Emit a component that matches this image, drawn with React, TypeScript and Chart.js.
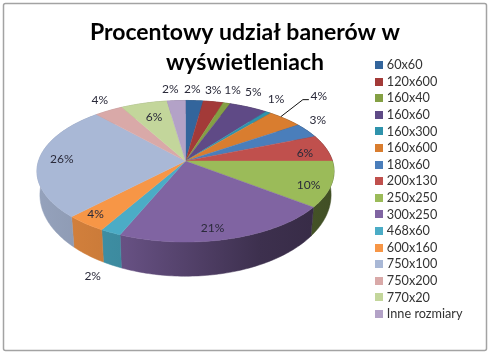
import React, { useEffect, useRef } from "react";
import { Chart, registerables } from "chart.js";

Chart.register(...registerables);

const categories = ["60x60","120x600","160x40","160x60","160x300","160x600","180x60","200x130","250x250","300x250","468x60","600x160","750x100","750x200","770x20","Inne rozmiary"];
const shares = [2.2,2.5,0.9,4.8,0.7,4.4,3.4,6.1,10.4,20.9,2.0,3.9,26.1,3.6,5.8,2.3];
const shareLabels = ["2%","3%","1%","5%","1%","4%","3%","6%","10%","21%","2%","4%","26%","4%","6%","2%"];
const colors = ["#33659c","#a33a38","#84a044","#5f4a86","#2f93ac","#d97d2f","#4a7ebb","#c0504d","#9bbb59","#8064a2","#4bacc6","#f79646","#a9b8d6","#d9a9a8","#c3d69b","#b3a2c7"];
const titleLines = ["Procentowy udział banerów w", "wyświetleniach"];
// label placement relative to the rim point at each slice's mid-angle
const labelNudge: [number, number][] = [[-2,-11],[0,-12],[6,-13],[5,-15],[8,-13],[34,-23],[11,-10],[-21,5],[-23,1],[-17,-11],[-18,44],[10,-10],[23,-1],[-9,-10],[10,14],[-6,-11]];

const FONT = "Lato, Carlito, 'Open Sans', sans-serif";
const APEX = { x: 185.5, y: 161 };
const W = 147, H = 69.3, K = 0.145, BASE_X = 0.98, BASE_Y = 1.15, BASE_DROP = 22;

function rim(phi: number, base: boolean) {
  const X = Math.sin(phi), Y = -Math.cos(phi);
  const s = 1 / (1 - K * Y);
  return {
    x: APEX.x + W * X * s * (base ? BASE_X : 1),
    y: APEX.y + H * Y * s * (base ? BASE_Y : 1) + (base ? BASE_DROP : 0),
  };
}

function shade(hex: string, f: number) {
  const n = parseInt(hex.slice(1), 16);
  const c = [(n >> 16) & 255, (n >> 8) & 255, n & 255].map((v) => Math.round(v * f));
  return `rgb(${c[0]},${c[1]},${c[2]})`;
}

function swatch(color: string) {
  const c = document.createElement("canvas");
  c.width = 8;
  c.height = 8;
  const x = c.getContext("2d")!;
  x.fillStyle = color;
  x.fillRect(0, 0, 8, 8);
  return c;
}

const pie3d = {
  id: "pie3d",
  beforeDraw(chart: any) {
    const ctx = chart.ctx;
    ctx.save();
    ctx.fillStyle = "#ffffff";
    ctx.fillRect(0, 0, chart.width, chart.height);
    ctx.strokeStyle = "#a3a3a3";
    ctx.lineWidth = 1.5;
    ctx.beginPath();
    ctx.roundRect(3.5, 3.5, 483, 347, 2);
    ctx.stroke();
    ctx.restore();
  },
  beforeDatasetDraw(chart: any) {
    const ctx = chart.ctx;
    const arcs = chart.getDatasetMeta(0).data;
    const step = Math.PI / 180;
    ctx.save();
    arcs.forEach((arc: any, i: number) => {
      const a = arc.startAngle + Math.PI / 2, b = arc.endAngle + Math.PI / 2;
      const g = ctx.createLinearGradient(37, 0, 334, 0);
      g.addColorStop(0, shade(colors[i], 0.88));
      g.addColorStop(0.3, shade(colors[i], 0.8));
      g.addColorStop(0.75, shade(colors[i], 0.48));
      g.addColorStop(1, shade(colors[i], 0.42));
      ctx.fillStyle = g;
      ctx.strokeStyle = g;
      ctx.lineWidth = 0.5;
      ctx.beginPath();
      let p = rim(a, false);
      ctx.moveTo(p.x, p.y);
      for (let t = a; t < b; t += step) { p = rim(t, false); ctx.lineTo(p.x, p.y); }
      p = rim(b, false); ctx.lineTo(p.x, p.y);
      for (let t = b; t > a; t -= step) { p = rim(t, true); ctx.lineTo(p.x, p.y); }
      p = rim(a, true); ctx.lineTo(p.x, p.y);
      ctx.closePath();
      ctx.fill();
      ctx.stroke();
    });
    arcs.forEach((arc: any, i: number) => {
      const a = arc.startAngle + Math.PI / 2, b = arc.endAngle + Math.PI / 2;
      ctx.fillStyle = colors[i];
      ctx.strokeStyle = colors[i];
      ctx.lineWidth = 0.4;
      ctx.beginPath();
      ctx.moveTo(APEX.x, APEX.y);
      for (let t = a; t < b; t += step) { const p = rim(t, false); ctx.lineTo(p.x, p.y); }
      const e = rim(b, false); ctx.lineTo(e.x, e.y);
      ctx.closePath();
      ctx.fill();
      ctx.stroke();
    });
    ctx.font = `12px ${FONT}`;
    ctx.fillStyle = "#2a2a3a";
    ctx.textAlign = "center";
    ctx.textBaseline = "middle";
    let leader: any = null;
    arcs.forEach((arc: any, i: number) => {
      const mid = (arc.startAngle + arc.endAngle) / 2 + Math.PI / 2;
      const p = rim(mid, false);
      const tx = p.x + labelNudge[i][0], ty = p.y + labelNudge[i][1];
      ctx.fillText(shareLabels[i], tx, ty);
      if (labelNudge[i][0] > 30) leader = { p, tx, ty };
    });
    if (leader) {
      ctx.strokeStyle = "#111";
      ctx.lineWidth = 1;
      ctx.beginPath();
      ctx.moveTo(leader.p.x - 4, leader.p.y - 2);
      ctx.lineTo(leader.tx - 16, leader.ty + 4);
      ctx.lineTo(leader.tx - 10, leader.ty + 4);
      ctx.stroke();
    }
    ctx.restore();
    return false;
  },
};

export default function App() {
  const ref = useRef<HTMLCanvasElement | null>(null);
  useEffect(() => {
    document.body.style.margin = "0";
    const chart = new Chart(ref.current!, {
      type: "pie",
      data: {
        labels: categories,
        datasets: [{ data: shares, backgroundColor: colors, borderWidth: 0 }],
      },
      options: {
        animation: false,
        responsive: false,
        layout: { padding: { top: 24, right: 17.5, left: 17.5, bottom: 0 } },
        plugins: {
          tooltip: { enabled: false },
          title: {
            display: true,
            text: titleLines,
            color: "#000",
            font: { family: FONT, size: 23, weight: "bold", lineHeight: 1.33 },
            padding: { top: -7, bottom: 8 },
          },
          legend: {
            display: true,
            position: "right",
            align: "center",
            labels: {
              usePointStyle: true,
              pointStyleWidth: 2,
              boxHeight: 8,
              padding: 3.9,
              color: "#333",
              font: { family: FONT, size: 12.7 },
              generateLabels: () =>
                categories.map((text, i) => ({
                  text,
                  fillStyle: colors[i],
                  strokeStyle: colors[i],
                  lineWidth: 0,
                  hidden: false,
                  index: i,
                  pointStyle: swatch(colors[i]),
                  fontColor: "#333",
                })),
            },
          },
        },
      },
      plugins: [pie3d as any],
    });
    return () => chart.destroy();
  }, []);
  return <canvas ref={ref} width={490} height={355} style={{ display: "block", filter: "blur(0.35px)" }} />;
}
